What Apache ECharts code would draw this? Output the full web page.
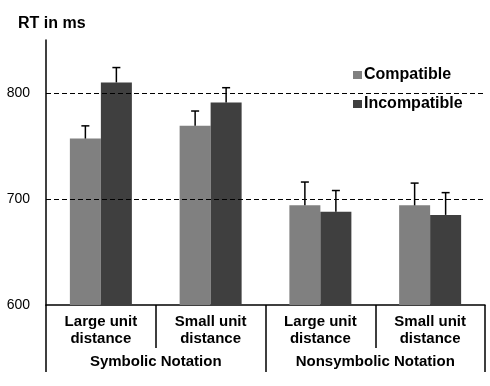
<!DOCTYPE html>
<html>
<head>
<meta charset="utf-8">
<script src="https://cdn.jsdelivr.net/npm/echarts@6/dist/echarts.min.js"></script>
<style>
  html, body { margin: 0; padding: 0; background: #fff; }
  #chartDiv { width: 490px; height: 386px; }
</style>
</head>
<body>
<div id="chartDiv"></div>
<script>
var categories = ['Large unit\ndistance', 'Small unit\ndistance', 'Large unit\ndistance', 'Small unit\ndistance'];
var groups = ['Symbolic Notation', 'Nonsymbolic Notation'];
var compatible = [757, 769, 694, 694];
var incompatible = [810, 791, 688, 685];
// upper end of the error bars
var compatibleErr = [769, 783, 716, 715];
var incompatibleErr = [824, 805, 708, 706];
var yTicks = [600, 700, 800];

var fontFam = "'Liberation Sans', Arial, sans-serif";
var barW = 31;

function errData(vals, errs) {
  return vals.map(function (v, i) { return [i, v, errs[i]]; });
}

function errRender(offset) {
  return function (params, api) {
    var base = api.coord([api.value(0), api.value(1)]);
    var top = api.coord([api.value(0), api.value(2)]);
    var x = base[0] + offset;
    var st = { stroke: '#000', lineWidth: 1.5 };
    return {
      type: 'group',
      children: [
        { type: 'line', shape: { x1: x, y1: base[1], x2: x, y2: top[1] }, style: st },
        { type: 'line', shape: { x1: x - 4, y1: top[1], x2: x + 4, y2: top[1] }, style: st }
      ]
    };
  };
}

var chart = echarts.init(document.getElementById('chartDiv'));
chart.setOption({
  animation: false,
  backgroundColor: '#fff',
  textStyle: { fontFamily: fontFam },
  title: {
    text: 'RT in ms', left: 13, top: 11,
    textStyle: { fontFamily: fontFam, fontSize: 16, fontWeight: 'bold', color: '#000' }
  },
  legend: {
    orient: 'vertical', left: 343, top: 64,
    data: ['Compatible', 'Incompatible'],
    icon: 'rect', itemWidth: 9, itemHeight: 8, itemGap: 13,
    backgroundColor: '#fff', padding: [3, 12, 3, 10],
    textStyle: { fontFamily: fontFam, fontSize: 16, fontWeight: 'bold', color: '#000', lineHeight: 16, padding: [0, 0, 0, -3] }
  },
  grid: { left: 46, right: 5, top: 40, bottom: 81 },
  xAxis: [
    {
      type: 'category', data: categories,
      axisLine: { lineStyle: { color: '#000', width: 1.5 } },
      axisTick: { show: true, length: 43, lineStyle: { color: '#000', width: 1.5 } },
      axisLabel: { margin: 8, fontSize: 15, fontWeight: 'bold', color: '#000', lineHeight: 17, fontFamily: fontFam }
    },
    {
      type: 'category', data: groups, position: 'bottom',
      axisLine: { show: false },
      axisTick: { show: true, length: 67, lineStyle: { color: '#000', width: 1.5 } },
      axisLabel: { margin: 49, fontSize: 15, fontWeight: 'bold', color: '#000', fontFamily: fontFam }
    }
  ],
  yAxis: {
    type: 'value', min: yTicks[0], max: 850, interval: 100,
    axisLine: { show: true, lineStyle: { color: '#000', width: 1.5 } },
    axisTick: { show: false },
    splitLine: { show: false },
    axisLabel: { showMaxLabel: false, margin: 16, fontSize: 14, color: '#000', fontFamily: fontFam }
  },
  series: [
    {
      name: 'Compatible', type: 'bar', data: compatible, barWidth: barW, barGap: '0%',
      itemStyle: { color: '#808080' },
      markLine: {
        silent: true, symbol: 'none', label: { show: false },
        lineStyle: { color: '#000', type: [5, 3], width: 1.2 },
        data: [{ yAxis: yTicks[1] }, { yAxis: yTicks[2] }]
      }
    },
    {
      name: 'Incompatible', type: 'bar', data: incompatible, barWidth: barW, barGap: '0%',
      itemStyle: { color: '#3f3f3f' }
    },
    {
      type: 'custom', data: errData(compatible, compatibleErr),
      renderItem: errRender(-barW / 2), z: 5, encode: { x: 0, y: [1, 2] }
    },
    {
      type: 'custom', data: errData(incompatible, incompatibleErr),
      renderItem: errRender(barW / 2), z: 5, encode: { x: 0, y: [1, 2] }
    }
  ]
});
</script>
</body>
</html>
